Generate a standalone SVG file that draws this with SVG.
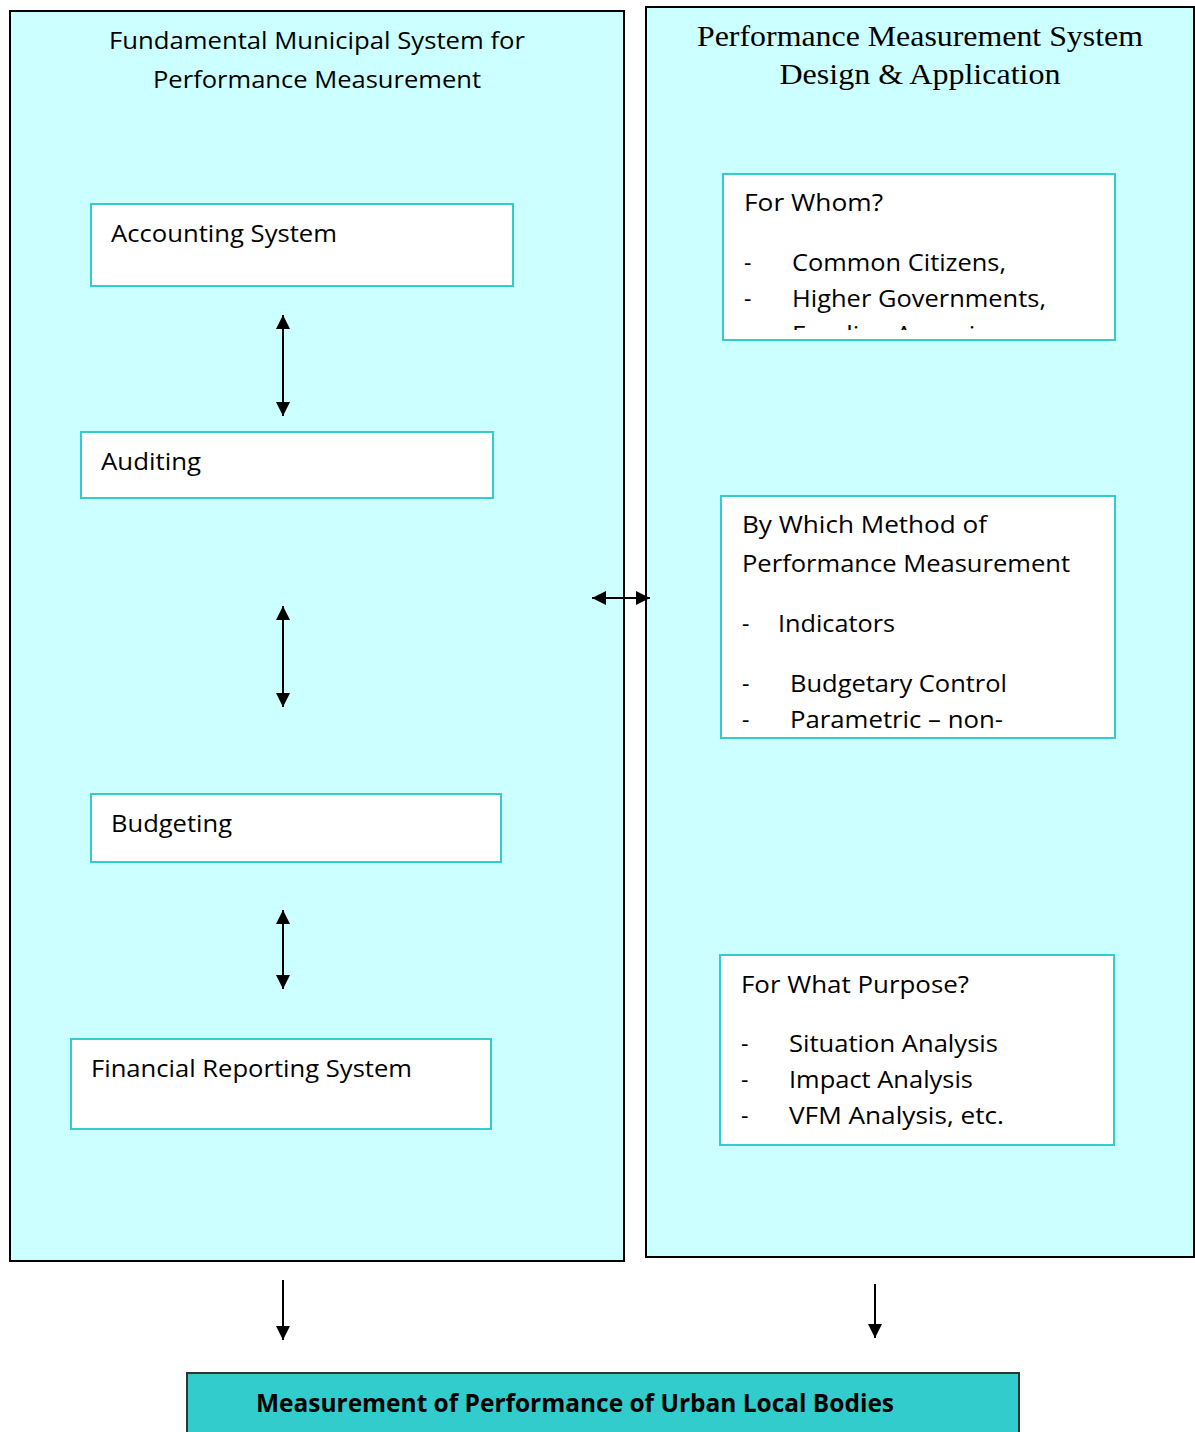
<svg xmlns="http://www.w3.org/2000/svg" width="1195" height="1432" viewBox="0 0 1195 1432">
<style>
.big{fill:#CCFFFF;stroke:#000;stroke-width:2}
.box{fill:#fff;stroke:#33CCCC;stroke-width:2}
.t{font-family:"Open Sans","Noto Sans",sans-serif;font-size:23px;fill:#000}
.s{font-family:"Liberation Serif","Times New Roman",serif;font-size:30px;fill:#000}
.b{font-family:"Open Sans","Noto Sans",sans-serif;font-size:25px;font-weight:bold;fill:#000}
.c{stroke:#000;stroke-width:2;fill:none}
</style>
<defs>
<marker id="ah" viewBox="0 0 10 10" refX="10" refY="5" markerWidth="7" markerHeight="7" markerUnits="userSpaceOnUse" orient="auto-start-reverse">
<path d="M0,0 L10,5 L0,10 z" fill="#000"/>
</marker>
<marker id="ah2" viewBox="0 0 14 14" refX="14" refY="7" markerWidth="14" markerHeight="14" markerUnits="userSpaceOnUse" orient="auto-start-reverse">
<path d="M0,0 L14,7 L0,14 z" fill="#000"/>
</marker>
<clipPath id="cw"><rect x="724" y="175" width="390" height="155"/></clipPath>
<clipPath id="cm"><rect x="722" y="497" width="392" height="232"/></clipPath>
</defs>

<g id="left-panel">
<rect class="big" x="10" y="11" width="614" height="1250"/>
<text class="t" x="317" y="49" text-anchor="middle" textLength="416" lengthAdjust="spacingAndGlyphs">Fundamental Municipal System for</text>
<text class="t" x="317" y="88" text-anchor="middle" textLength="328" lengthAdjust="spacingAndGlyphs">Performance Measurement</text>
</g>
<g id="right-panel">
<rect class="big" x="646" y="7" width="548" height="1250"/>
<text class="s" x="920" y="46" text-anchor="middle" textLength="446" lengthAdjust="spacingAndGlyphs">Performance Measurement System</text>
<text class="s" x="920" y="84" text-anchor="middle" textLength="281" lengthAdjust="spacingAndGlyphs">Design &amp; Application</text>
</g>

<g id="accounting">
<rect class="box" x="91" y="204" width="422" height="82"/>
<text class="t" x="111" y="242" textLength="226" lengthAdjust="spacingAndGlyphs">Accounting System</text>
</g>
<g id="auditing">
<rect class="box" x="81" y="432" width="412" height="66"/>
<text class="t" x="101" y="470" textLength="100" lengthAdjust="spacingAndGlyphs">Auditing</text>
</g>
<g id="budgeting">
<rect class="box" x="91" y="794" width="410" height="68"/>
<text class="t" x="111" y="832" textLength="121" lengthAdjust="spacingAndGlyphs">Budgeting</text>
</g>
<g id="financial-reporting">
<rect class="box" x="71" y="1039" width="420" height="90"/>
<text class="t" x="91" y="1077" textLength="321" lengthAdjust="spacingAndGlyphs">Financial Reporting System</text>
</g>

<g id="for-whom">
<rect class="box" x="723" y="174" width="392" height="166"/>
<g clip-path="url(#cw)">
<text class="t" x="744" y="211" textLength="139" lengthAdjust="spacingAndGlyphs">For Whom?</text>
<text class="t" x="744" y="271">-</text>
<text class="t" x="792" y="271" textLength="214" lengthAdjust="spacingAndGlyphs">Common Citizens,</text>
<text class="t" x="744" y="307">-</text>
<text class="t" x="792" y="307" textLength="254" lengthAdjust="spacingAndGlyphs">Higher Governments,</text>
<text class="t" x="744" y="343">-</text>
<text class="t" x="792" y="343" textLength="210" lengthAdjust="spacingAndGlyphs">Funding Agencies</text>
</g>
</g>

<g id="by-which-method">
<rect class="box" x="721" y="496" width="394" height="242"/>
<g clip-path="url(#cm)">
<text class="t" x="742" y="533" textLength="245" lengthAdjust="spacingAndGlyphs">By Which Method of</text>
<text class="t" x="742" y="572" textLength="328" lengthAdjust="spacingAndGlyphs">Performance Measurement</text>
<text class="t" x="742" y="632">-</text>
<text class="t" x="778" y="632" textLength="117" lengthAdjust="spacingAndGlyphs">Indicators</text>
<text class="t" x="742" y="692">-</text>
<text class="t" x="790" y="692" textLength="217" lengthAdjust="spacingAndGlyphs">Budgetary Control</text>
<text class="t" x="742" y="728">-</text>
<text class="t" x="790" y="728" textLength="213" lengthAdjust="spacingAndGlyphs">Parametric – non-</text>
</g>
</g>

<g id="for-what-purpose">
<rect class="box" x="720" y="955" width="394" height="190"/>
<text class="t" x="741" y="993" textLength="228" lengthAdjust="spacingAndGlyphs">For What Purpose?</text>
<text class="t" x="741" y="1052">-</text>
<text class="t" x="789" y="1052" textLength="209" lengthAdjust="spacingAndGlyphs">Situation Analysis</text>
<text class="t" x="741" y="1088">-</text>
<text class="t" x="789" y="1088" textLength="184" lengthAdjust="spacingAndGlyphs">Impact Analysis</text>
<text class="t" x="741" y="1124">-</text>
<text class="t" x="789" y="1124" textLength="215" lengthAdjust="spacingAndGlyphs">VFM Analysis, etc.</text>
</g>

<g id="result">
<rect x="187" y="1373" width="832" height="70" fill="#33CCCC" stroke="#333" stroke-width="2"/>
<text class="b" x="575" y="1412" text-anchor="middle" textLength="638" lengthAdjust="spacingAndGlyphs">Measurement of Performance of Urban Local Bodies</text>
</g>

<g id="connectors">
<line class="c" x1="283" y1="315" x2="283" y2="416" marker-start="url(#ah2)" marker-end="url(#ah2)"/>
<line class="c" x1="283" y1="606" x2="283" y2="707" marker-start="url(#ah2)" marker-end="url(#ah2)"/>
<line class="c" x1="283" y1="910" x2="283" y2="989" marker-start="url(#ah2)" marker-end="url(#ah2)"/>
<line class="c" x1="592" y1="598" x2="650" y2="598" marker-start="url(#ah2)" marker-end="url(#ah2)"/>
<line class="c" x1="283" y1="1280" x2="283" y2="1340" marker-end="url(#ah2)"/>
<line class="c" x1="875" y1="1284" x2="875" y2="1338" marker-end="url(#ah2)"/>
</g>
</svg>
